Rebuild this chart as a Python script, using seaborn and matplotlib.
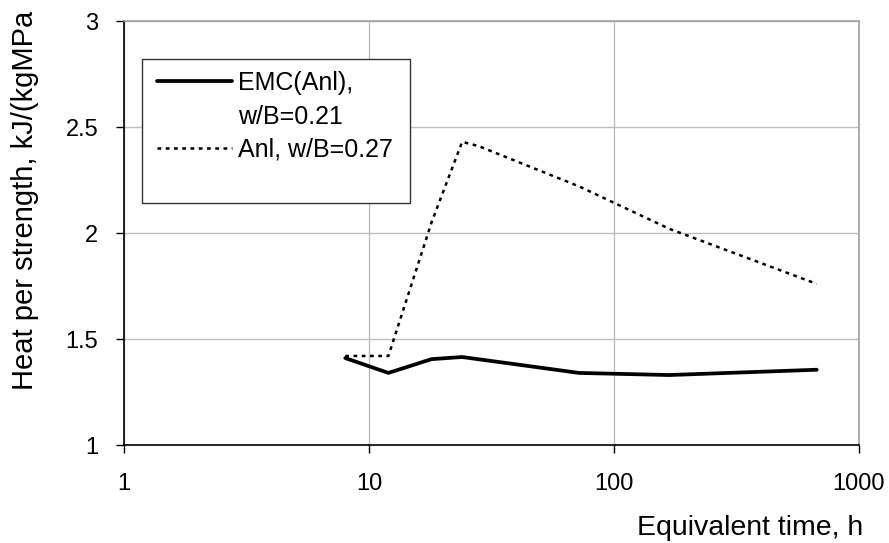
import numpy as np
import pandas as pd
import matplotlib
matplotlib.use("Agg")
import matplotlib.pyplot as plt
from matplotlib.patches import Rectangle
from matplotlib.lines import Line2D
from matplotlib.transforms import Bbox, TransformedBbox
import seaborn as sns

sns.set_style("white")
plt.rcParams['font.family'] = ['Liberation Sans', 'DejaVu Sans']
plt.rcParams['text.color'] = 'black'
plt.rcParams['xtick.color'] = 'black'
plt.rcParams['ytick.color'] = 'black'

# data
emc_time = [8, 12, 18, 24, 72, 168, 672]
emc_heat = [1.41, 1.34, 1.405, 1.415, 1.34, 1.33, 1.355]
anl_time = [8, 12, 18, 24, 28, 72, 168, 672]
anl_heat = [1.42, 1.42, 2.05, 2.43, 2.41, 2.22, 2.02, 1.76]
emc_label = "EMC(Anl),\nw/B=0.21"
anl_label = "Anl, w/B=0.27"
y_ticks = [1, 1.5, 2, 2.5, 3]
x_ticks = [1, 10, 100, 1000]

df = pd.concat([
    pd.DataFrame({"time": emc_time, "heat": emc_heat, "series": emc_label}),
    pd.DataFrame({"time": anl_time, "heat": anl_heat, "series": anl_label}),
])

W, H = 889, 543
fig = plt.figure(figsize=(W / 100, H / 100), dpi=100)
ax = fig.add_axes([124 / W, 1 - 445 / H, (859 - 124) / W, (445 - 21) / H])

sns.lineplot(data=df[df.series == emc_label], x="time", y="heat", color="black",
             lw=2.7, ax=ax, label=emc_label, sort=False)
sns.lineplot(data=df[df.series == anl_label], x="time", y="heat", color="black",
             lw=1.8, ls=(0, (1.5, 1.8)), ax=ax, label=anl_label, sort=False)

ax.set_xscale("log")
ax.set_xlim(1, 1000)
ax.set_ylim(1, 3)
ax.set_xticks(x_ticks)
ax.set_xticklabels([str(v) for v in x_ticks])
ax.set_yticks(y_ticks)
ax.set_yticklabels(["1", "1.5", "2", "2.5", "3"])
ax.xaxis.set_minor_locator(matplotlib.ticker.NullLocator())
ax.grid(True, color="#bdbdbd", lw=1.0)
ax.tick_params(axis="both", direction="out", length=6, width=1, color="black",
               labelsize=17, left=True, bottom=True)
ax.tick_params(axis="y", pad=12.5)
ax.tick_params(axis="x", pad=14)
ax.set_xlabel("")
ax.set_ylabel("")

for s in ["left", "bottom"]:
    ax.spines[s].set_color("black")
    ax.spines[s].set_linewidth(1.2)
for s in ["top", "right"]:
    ax.spines[s].set_color("#a0a0a0")
    ax.spines[s].set_linewidth(1.2)

# legend: first series label split so the line sits on its first text line
handles, labels = ax.get_legend_handles_labels()
emc_lines = emc_label.split("\n")
handles = [handles[0], Line2D([], [], color="none"), handles[1]]
labels = [emc_lines[0], emc_lines[1], labels[1]]
leg = ax.legend(handles, labels, loc="upper left",
                bbox_to_anchor=(157 / W, 1 - 71 / H),
                bbox_transform=fig.transFigure, fontsize=18, frameon=False,
                handlelength=3.0, handletextpad=0.25, borderpad=0,
                labelspacing=0.38, borderaxespad=0)
box = Rectangle((142 / W, 1 - 203 / H), (410 - 142) / W, (203 - 59) / H,
                transform=fig.transFigure, fill=True, facecolor="white",
                edgecolor="#333333", lw=1.0, zorder=4, clip_on=False)
ax.add_artist(box)
leg.set_zorder(5)

ylab = fig.text(25 / W, 1 - 390 / H, "Heat per strength, kJ/(kgMPa)", rotation=90,
                ha="center", va="bottom", fontsize=21)
ylab.set_clip_box(TransformedBbox(Bbox([[0, 0], [1, 1 - 12 / H]]), fig.transFigure))
ylab.set_clip_on(True)
fig.text(863 / W, 1 - 528 / H, "Equivalent time, h", ha="right", va="center",
         fontsize=20.5)

fig.savefig("out.png", dpi=100)
